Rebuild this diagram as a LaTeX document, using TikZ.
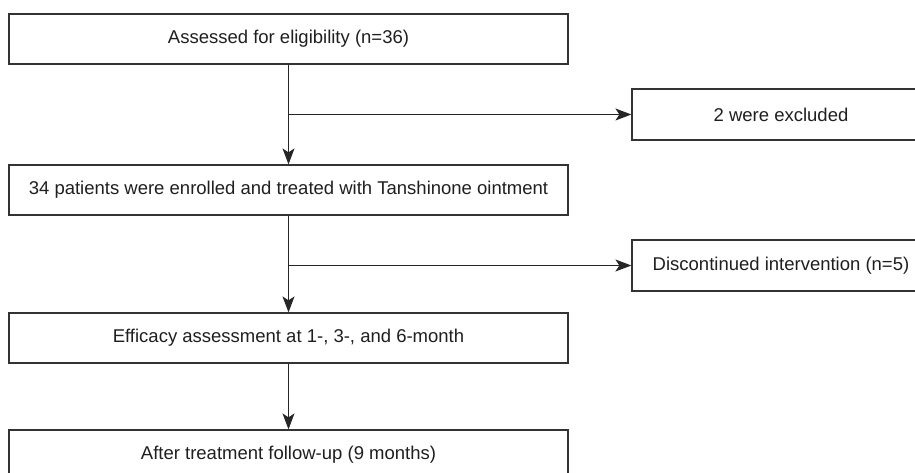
\documentclass[tikz,border=0pt]{standalone}
\usepackage{fontspec}
\setmainfont{Liberation Sans}
\usetikzlibrary{arrows.meta,calc}
\begin{document}
\begin{tikzpicture}[x=1pt,y=-1pt,
    box/.style={draw=black!80,line width=1.2pt,minimum height=50pt,inner sep=0,font=\fontsize{18.5}{22}\selectfont,text=black!88},
    mainbox/.style={box,minimum width=559pt},
    sidebox/.style={box,minimum width=298pt,minimum height=51pt},
    link/.style={-{Stealth[length=16pt,width=12pt,inset=4pt]},draw=black!85,line width=1.2pt}]
        \useasboundingbox(0,0)rectangle(915,473);
        \node[mainbox](assess)at(288.5,39){Assessed for eligibility (n=36)};
        \node[mainbox](enrol)at(288.5,190){34 patients were enrolled and treated with Tanshinone ointment};
        \node[mainbox](efficacy)at(288.5,338){Efficacy assessment at 1-, 3-, and 6-month};
        \node[mainbox](followup)at(288.5,455){After treatment follow-up (9 months)};
        \node[sidebox](excluded)at(781,114.5){2 were excluded};
        \node[sidebox](discont)at(781,265.5){Discontinued intervention (n=5)};
        \coordinate(split1)at(assess.south|-excluded.west);
        \coordinate(split2)at(enrol.south|-discont.west);
        \draw[link](assess.south)--(enrol.north);
        \draw[link](split1)--(excluded.west);
        \draw[link](enrol.south)--(efficacy.north);
        \draw[link](split2)--(discont.west);
        \draw[link](efficacy.south)--(followup.north);
    \end{tikzpicture}
\end{document}
